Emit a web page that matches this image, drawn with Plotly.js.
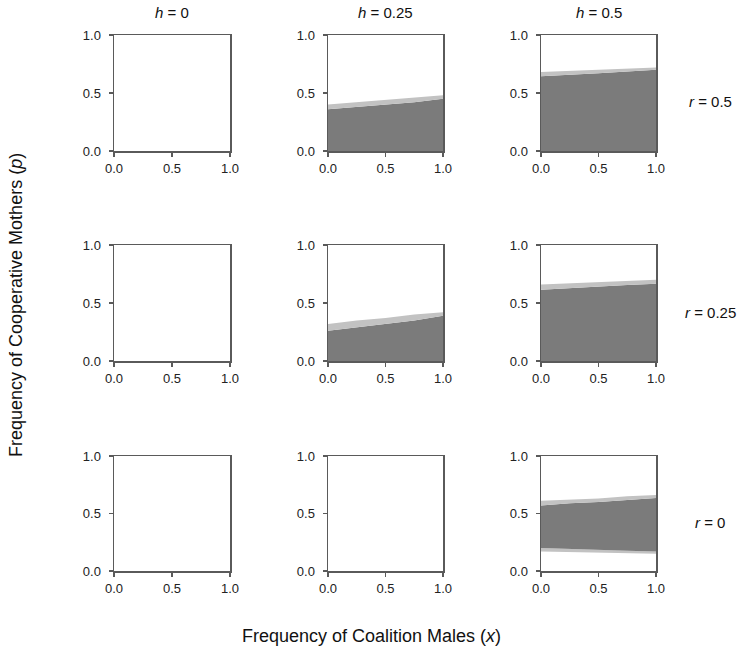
<!DOCTYPE html>
<html>
<head>
<meta charset="utf-8">
<script src="https://cdn.plot.ly/plotly-3.0.1.min.js"></script>
<style>html,body{margin:0;padding:0;background:#fff;}#chart{width:742px;height:654px;}</style>
</head>
<body>
<div id="chart"></div>
<script>
// ---- data ----
const hValues = ["0", "0.25", "0.5"];          // columns
const rValues = ["0.5", "0.25", "0"];          // rows (top to bottom)
const xGrid = [0, 0.25, 0.5, 0.75, 1];
const tickVals = [0, 0.5, 1];
const tickText = ["0.0", "0.5", "1.0"];

// r = 0.5, h = 0.25
const r050_h025_coreLow  = [0, 0, 0, 0, 0];
const r050_h025_coreHigh = [0.36, 0.38, 0.40, 0.42, 0.45];
const r050_h025_edgeLow  = [0, 0, 0, 0, 0];
const r050_h025_edgeHigh = [0.40, 0.42, 0.44, 0.46, 0.48];
// r = 0.5, h = 0.5
const r050_h050_coreLow  = [0, 0, 0, 0, 0];
const r050_h050_coreHigh = [0.645, 0.655, 0.67, 0.685, 0.70];
const r050_h050_edgeLow  = [0, 0, 0, 0, 0];
const r050_h050_edgeHigh = [0.68, 0.69, 0.70, 0.71, 0.72];
// r = 0.25, h = 0.25
const r025_h025_coreLow  = [0, 0, 0, 0, 0];
const r025_h025_coreHigh = [0.26, 0.29, 0.32, 0.35, 0.39];
const r025_h025_edgeLow  = [0, 0, 0, 0, 0];
const r025_h025_edgeHigh = [0.32, 0.35, 0.37, 0.40, 0.42];
// r = 0.25, h = 0.5
const r025_h050_coreLow  = [0, 0, 0, 0, 0];
const r025_h050_coreHigh = [0.615, 0.63, 0.645, 0.655, 0.665];
const r025_h050_edgeLow  = [0, 0, 0, 0, 0];
const r025_h050_edgeHigh = [0.66, 0.67, 0.68, 0.69, 0.70];
// r = 0, h = 0.5
const r000_h050_coreLow  = [0.20, 0.19, 0.18, 0.175, 0.17];
const r000_h050_coreHigh = [0.57, 0.59, 0.60, 0.615, 0.635];
const r000_h050_edgeLow  = [0.17, 0.165, 0.16, 0.155, 0.15];
const r000_h050_edgeHigh = [0.61, 0.62, 0.63, 0.65, 0.66];

// panels: [row, col, arrays]
const panels = [
  [0, 1, r050_h025_coreLow, r050_h025_coreHigh, r050_h025_edgeLow, r050_h025_edgeHigh],
  [0, 2, r050_h050_coreLow, r050_h050_coreHigh, r050_h050_edgeLow, r050_h050_edgeHigh],
  [1, 1, r025_h025_coreLow, r025_h025_coreHigh, r025_h025_edgeLow, r025_h025_edgeHigh],
  [1, 2, r025_h050_coreLow, r025_h050_coreHigh, r025_h050_edgeLow, r025_h050_edgeHigh],
  [2, 2, r000_h050_coreLow, r000_h050_coreHigh, r000_h050_edgeLow, r000_h050_edgeHigh]
];

// ---- layout geometry (pixels) ----
const W = 742, H = 654;
const colPx = [[114, 230], [328, 443], [541, 656]];
const rowPx = [[35, 151], [245, 361], [456, 571]];
const FONT = "Liberation Sans, Arial, sans-serif";
const CORE = "#7b7b7b", EDGE = "#c2c2c2";

const layout = {
  width: W, height: H,
  margin: {l: 0, r: 0, t: 0, b: 0},
  paper_bgcolor: "#fff", plot_bgcolor: "#fff",
  showlegend: false,
  font: {family: FONT, size: 13, color: "#222"},
  annotations: []
};

function axisIndex(row, col) { return row * 3 + col + 1; }
function axName(i) { return i === 1 ? "x" : "x" + i; }
function ayName(i) { return i === 1 ? "y" : "y" + i; }

const traces = [];
for (let row = 0; row < 3; row++) {
  for (let col = 0; col < 3; col++) {
    const i = axisIndex(row, col);
    const xs = i === 1 ? "xaxis" : "xaxis" + i;
    const ys = i === 1 ? "yaxis" : "yaxis" + i;
    const common = {
      range: [0, 1], tickvals: tickVals, ticktext: tickText,
      showgrid: false, zeroline: false, showline: true, mirror: true,
      linecolor: "#5a5a5a", linewidth: 1.5,
      ticks: "outside", ticklen: 4, tickwidth: 1.2, tickcolor: "#5a5a5a",
      tickfont: {family: FONT, size: 13, color: "#222"}, fixedrange: true
    };
    layout[xs] = Object.assign({}, common, {
      domain: [colPx[col][0] / W, colPx[col][1] / W],
      anchor: ayName(i), ticklabelstandoff: 1
    });
    layout[ys] = Object.assign({}, common, {
      domain: [1 - rowPx[row][1] / H, 1 - rowPx[row][0] / H],
      anchor: axName(i), ticklabelstandoff: 5
    });
    // empty placeholder trace so every subplot frame is drawn
    traces.push({x: [null], y: [null], xaxis: axName(i), yaxis: ayName(i),
                 mode: "markers", hoverinfo: "skip", marker: {opacity: 0}});
  }
}

panels.forEach(p => {
  const [row, col, coreLow, coreHigh, edgeLow, edgeHigh] = p;
  const i = axisIndex(row, col);
  const base = {x: xGrid, xaxis: axName(i), yaxis: ayName(i), mode: "lines", hoverinfo: "skip",
                line: {width: 0, shape: "linear"}};
  traces.push(Object.assign({}, base, {y: edgeLow}));
  traces.push(Object.assign({}, base, {y: coreLow, fill: "tonexty", fillcolor: EDGE}));
  traces.push(Object.assign({}, base, {y: coreHigh, fill: "tonexty", fillcolor: CORE}));
  traces.push(Object.assign({}, base, {y: edgeHigh, fill: "tonexty", fillcolor: EDGE}));
});

// column headers
hValues.forEach((h, c) => {
  layout.annotations.push({
    xref: "paper", yref: "paper",
    x: (colPx[c][0] + colPx[c][1]) / 2 / W, y: 1 - 13 / H,
    text: "<i>h</i> = " + h, showarrow: false,
    font: {family: FONT, size: 15, color: "#111"}, xanchor: "center", yanchor: "middle"
  });
});
// row labels
rValues.forEach((r, k) => {
  layout.annotations.push({
    xref: "paper", yref: "paper",
    x: 710 / W, y: 1 - ((rowPx[k][0] + rowPx[k][1]) / 2 + 9) / H,
    text: "<i>r</i> = " + r, showarrow: false,
    font: {family: FONT, size: 15, color: "#111"}, xanchor: "center", yanchor: "middle"
  });
});
// axis titles
layout.annotations.push({
  xref: "paper", yref: "paper", x: 371 / W, y: 1 - 636 / H,
  text: "Frequency of Coalition Males (<i>x</i>)", showarrow: false,
  font: {family: FONT, size: 18, color: "#111"}, xanchor: "center", yanchor: "middle"
});
layout.annotations.push({
  xref: "paper", yref: "paper", x: 16 / W, y: 1 - 305 / H,
  text: "Frequency of Cooperative Mothers (<i>p</i>)", showarrow: false, textangle: -90,
  font: {family: FONT, size: 18, color: "#111"}, xanchor: "center", yanchor: "middle"
});

Plotly.newPlot("chart", traces, layout, {displayModeBar: false, staticPlot: true});
</script>
</body>
</html>
